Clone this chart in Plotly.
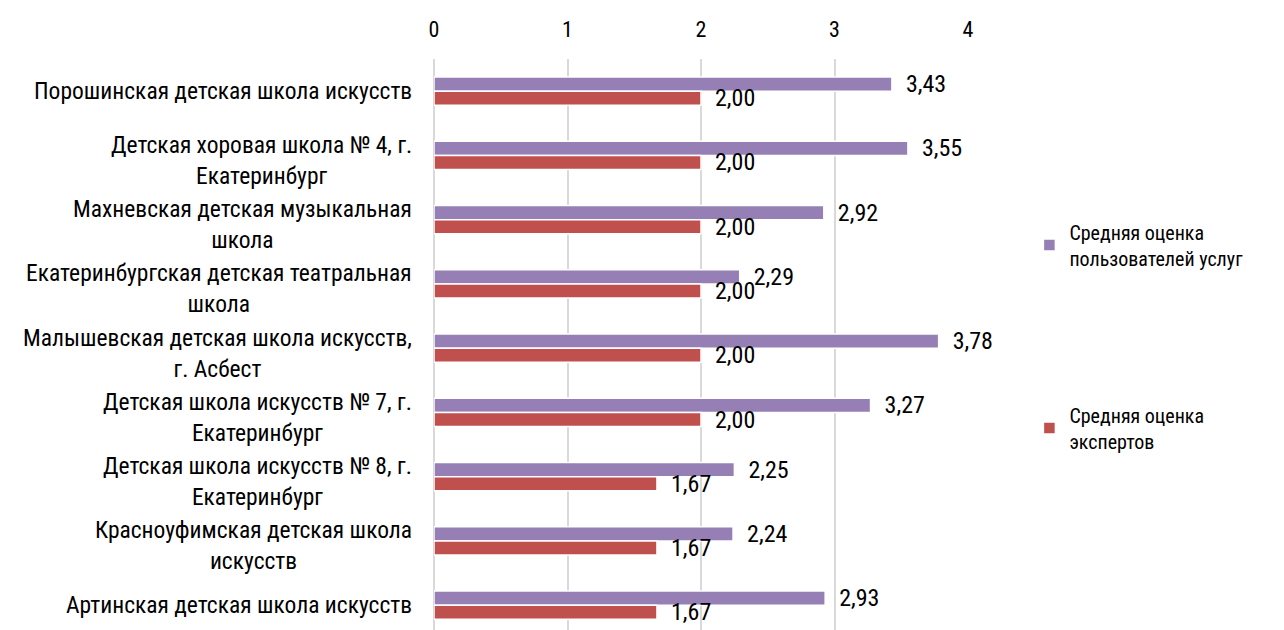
import plotly.graph_objects as go

categories = [
    "Порошинская детская школа искусств",
    "Детская хоровая школа № 4, г.<br>Екатеринбург",
    "Махневская детская музыкальная<br>школа",
    "Екатеринбургская детская театральная<br>школа",
    "Малышевская детская школа искусств,<br>г. Асбест",
    "Детская школа искусств № 7, г.<br>Екатеринбург",
    "Детская школа искусств № 8, г.<br>Екатеринбург",
    "Красноуфимская детская школа<br>искусств",
    "Артинская детская школа искусств",
]
users = [3.43, 3.55, 2.92, 2.29, 3.78, 3.27, 2.25, 2.24, 2.93]
experts = [2.00, 2.00, 2.00, 2.00, 2.00, 2.00, 1.67, 1.67, 1.67]
series_names = ["Средняя оценка<br>пользователей услуг", "Средняя оценка<br>экспертов"]
x_ticks = [0, 1, 2, 3, 4]

FONT = "Liberation Sans Narrow, Arial Narrow, Roboto Condensed, Liberation Sans, sans-serif"
PURPLE = "#967fb5"
RED = "#c0504d"

ids = list(range(len(categories)))

fig = go.Figure()
fig.add_trace(go.Bar(
    y=ids, x=users, orientation="h", name=series_names[0], legendgroup="a",
    marker=dict(color=PURPLE, line=dict(color="white", width=1.5)),
    text=users, texttemplate="  %{x:.2f}", textposition="outside",
    textfont=dict(size=24, color="black", family=FONT), cliponaxis=False,
))
fig.add_trace(go.Bar(
    y=ids, x=experts, orientation="h", name=series_names[1], legendgroup="b",
    marker=dict(color=RED, line=dict(color="white", width=1.5)),
    text=experts, texttemplate="  %{x:.2f}", textposition="outside",
    textfont=dict(size=24, color="black", family=FONT), cliponaxis=False,
))

for i, c in enumerate(categories):
    fig.add_annotation(
        x=0, xref="paper", xanchor="right", xshift=-20,
        y=i, yref="y", yanchor="middle", yshift=(-5 if "<br>" in c else 0),
        text=c, showarrow=False, align="center",
        font=dict(size=23.5, color="black", family=FONT),
    )

fig.update_layout(
    width=1284, height=630,
    margin=dict(l=426, r=324, t=51, b=0),
    paper_bgcolor="white", plot_bgcolor="white",
    barmode="group", bargap=0.56, bargroupgap=0.0,
    separators=", ",
    font=dict(family=FONT, size=20, color="black"),
    showlegend=True,
    legend=dict(
        x=1.115, y=0.735, xanchor="left", yanchor="top",
        traceorder="grouped", tracegroupgap=128,
        font=dict(size=20, family=FONT, color="black"),
        itemwidth=30,
    ),
    xaxis=dict(
        side="top", range=[0, 4], tickvals=x_ticks,
        showgrid=True, gridcolor="#d9d9d9", gridwidth=1.5,
        zeroline=True, zerolinecolor="#d9d9d9", zerolinewidth=1.5,
        showline=False, ticks="", ticklabelstandoff=17,
        tickfont=dict(size=22, family=FONT, color="black"),
        fixedrange=True,
    ),
    yaxis=dict(
        range=[8.51, -0.5], showticklabels=False, showgrid=False,
        zeroline=False, ticks="", showline=False,
    ),
)
for tr in fig.data:
    tr.constraintext = "none"

fig.write_html("out.html")
